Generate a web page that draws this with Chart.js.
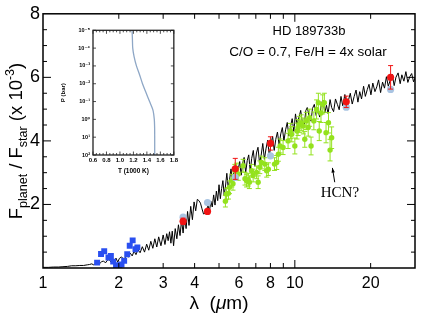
<!DOCTYPE html>
<html>
<head>
<meta charset="utf-8">
<script src="https://cdn.jsdelivr.net/npm/chart.js@4.4.1/dist/chart.umd.min.js"></script>
<style>
body { margin: 0; background: #fff; }
#wrap { position: relative; width: 423px; height: 315px; }
#mainChart { position: absolute; left: 0; top: 0; }
#insetChart { position: absolute; left: 55px; top: 24px; }
</style>
</head>
<body>
<div id="wrap">
<canvas id="mainChart" width="423" height="315"></canvas>
<canvas id="insetChart" width="125" height="156"></canvas>
</div>
<script>
// model spectrum (wavelength in micron, Fp/Fs in 1e-3)
const specWl = [1.00,1.05,1.10,1.15,1.20,1.25,1.30,1.35,1.40,1.45,1.50,
  1.53,1.56,1.59,1.62,1.65,1.68,1.71,1.74,1.77,1.80,1.83,1.86,1.89,1.92,1.95,1.98,2.01,
  2.05,2.10,2.14,2.18,2.22,2.26,2.30,2.34,2.38,2.43,2.48,2.53,2.58,2.63,2.68,2.73,2.78,2.83,2.88,2.94,
  3.00,3.05,3.10,3.14,3.18,3.22,3.26,3.30,3.35,3.40,3.45,3.50,3.55,3.60,3.65,3.70,3.75,3.80,3.86,3.92,3.98,
  4.04,4.10,4.16,4.22,4.28,4.34,4.40,4.46,4.52,4.58,4.64,4.70,4.76,4.82,4.88,4.94,
  5.00,5.06,5.12,5.18,5.24,5.30,5.37,5.44,5.51,5.58,5.65,5.72,5.80,5.88,5.96,6.04,6.12,6.20,6.29,6.38,
  6.47,6.56,6.65,6.74,6.84,6.94,7.04,7.14,7.24,7.35,7.46,7.57,7.68,7.80,7.92,8.04,8.16,8.28,8.40,8.53,
  8.66,8.79,8.92,9.05,9.19,9.33,9.47,9.61,9.76,9.91,
  10.06,10.2,10.4,10.55,10.7,10.9,11.05,11.2,11.4,11.6,11.75,11.95,12.15,12.35,12.55,12.75,12.95,13.15,13.35,13.55,
  13.8,14.0,14.25,14.5,14.75,15.0,15.25,15.5,15.8,16.05,16.35,16.6,16.9,17.2,17.5,17.8,18.1,18.4,18.75,19.05,
  19.4,19.7,20.05,20.4,20.8,21.15,21.5,21.9,22.3,22.7,23.1,23.5,23.9,24.35,24.8,25.2,25.7,26.2,26.6,27.1,
  27.6,28.1,28.6,29.1,29.6,30.0];
const specF = [0.02,0.02,0.03,0.03,0.04,0.05,0.07,0.07,0.08,0.08,0.10,
  0.11,0.13,0.10,0.15,0.17,0.14,0.20,0.22,0.16,0.24,0.27,0.19,0.28,0.24,0.31,0.18,0.30,
  0.35,0.26,0.40,0.34,0.47,0.38,0.53,0.42,0.58,0.48,0.67,0.50,0.75,0.56,0.84,0.62,0.92,0.66,0.98,0.70,
  1.04,0.74,1.08,0.86,1.14,0.78,1.16,0.70,1.24,0.92,1.36,1.02,1.50,1.10,1.62,1.24,1.78,1.34,1.94,1.52,2.08,
  1.80,2.16,2.12,2.04,1.86,1.70,1.72,1.84,1.96,1.78,2.10,1.92,2.30,1.98,2.42,2.12,
  2.62,2.18,2.50,2.75,2.30,2.55,2.98,2.50,2.80,3.12,2.66,3.05,3.22,2.78,3.10,3.35,2.92,3.28,3.48,3.00,
  3.38,3.56,3.05,3.45,3.70,3.20,3.62,3.80,3.30,3.55,3.92,3.42,3.75,4.02,3.52,3.90,4.15,3.70,4.05,4.28,
  3.88,4.22,4.42,4.00,4.35,4.58,4.15,4.45,4.70,4.30,
  4.85,4.52,4.76,4.96,4.60,4.50,4.95,5.05,4.78,4.62,5.02,5.15,4.80,4.98,4.75,5.20,5.28,4.88,5.12,4.86,
  5.30,5.05,4.92,5.32,5.15,4.98,5.40,5.10,5.46,5.05,5.30,5.50,5.16,5.40,5.60,5.22,5.55,5.32,5.72,5.40,
  5.62,5.78,5.45,5.82,5.55,5.70,5.92,5.52,5.85,5.66,6.02,5.72,5.90,6.10,5.74,6.00,6.14,5.80,6.08,5.88,
  6.18,5.84,6.02,6.12,5.86,5.98];

// ground-based spectrum (blue squares)
const blueWl = [1.64,1.70,1.75,1.82,1.86,1.90,1.95,2.01,2.05,2.10,2.16,2.21,2.27,2.33,2.37];
const blueF = [0.17,0.44,0.53,0.33,0.38,0.20,0.09,0.06,0.11,0.23,0.43,0.70,0.87,0.59,0.65];

// IRS spectrum (green)
const greenWl = [5.30,5.35,5.45,5.50,5.62,5.68,5.78,5.87,5.96,6.23,6.34,6.43,6.53,6.60,6.73,6.83,7.05,7.15,7.26,7.37,
  7.60,7.73,7.85,8.30,8.47,8.60,8.74,8.98,9.40,9.60,9.72,10.0,10.2,10.3,10.45,10.6,10.8,10.95,11.1,11.3,
  11.45,11.6,11.9,12.2,12.4,12.5,12.7,12.9,13.1,13.3,13.6,13.8,14.0];
const greenF = [2.10,2.33,2.35,2.54,2.75,2.65,3.06,3.10,2.96,3.22,2.81,2.75,2.78,2.70,3.06,2.91,3.01,2.70,3.17,3.32,
  3.27,3.06,3.11,3.27,3.32,3.58,3.84,3.79,4.00,4.31,4.21,3.84,4.31,4.42,4.52,4.57,4.47,4.05,4.63,4.42,
  4.73,3.84,4.63,4.99,5.20,4.31,4.88,5.15,5.20,4.26,4.57,3.71,4.10];
const greenErr = [0.18,0.18,0.18,0.2,0.2,0.2,0.2,0.2,0.2,0.2,0.2,0.2,0.2,0.2,0.2,0.2,0.2,0.2,0.2,0.2,
  0.2,0.2,0.2,0.2,0.22,0.22,0.22,0.22,0.24,0.24,0.24,0.25,0.25,0.25,0.25,0.25,0.25,0.25,0.27,0.27,
  0.27,0.28,0.28,0.3,0.3,0.3,0.3,0.3,0.3,0.32,0.32,0.34,0.34];

// photometry (red) and band-averaged model (light blue)
const redWl = [3.6,4.5,5.8,8.0,16.0,24.0];
const redF = [1.47,1.78,3.12,3.92,5.23,6.00];
const redErr = [0.10,0.06,0.33,0.21,0.18,0.37];
const binWl = [3.6,4.5,5.8,8.0,16.0,24.0];
const binF = [1.60,2.06,2.85,3.53,5.06,5.62];

// axes
const xLabelVals = [1,2,3,4,6,8,10,20];
const xTickVals = [2,3,4,5,6,7,8,9,10,20];
const yLabelVals = [2,4,6,8];

// inset P-T profile
const ptP = [1e-5,3e-5,1e-4,3e-4,1e-3,3e-3,1e-2,3e-2,1e-1,3e-1,1,3,10,100];
const ptT = [1.18,1.185,1.19,1.21,1.245,1.29,1.335,1.385,1.44,1.49,1.51,1.515,1.516,1.516];
const insetTTicks = [0.6,0.8,1.0,1.2,1.4,1.6,1.8];
const insetPTicks = [1e-5,1e-4,1e-3,1e-2,1e-1,1,10,100];
const insetPLabels = ['10⁻⁵','10⁻⁴','10⁻³','10⁻²','10⁻¹','10⁰','10¹','10²'];

const FAM = '"Liberation Sans", "DejaVu Sans", sans-serif';

function pts(xs, ys) {
  return xs.map((v, i) => ({ x: v, y: ys[i] }));
}

function line(ctx, x1, y1, x2, y2) {
  ctx.beginPath(); ctx.moveTo(x1, y1); ctx.lineTo(x2, y2); ctx.stroke();
}

// error bars drawn right after their own dataset
const errorBars = {
  id: 'errorBars',
  afterDatasetDraw(chart, args) {
    const ds = chart.data.datasets[args.index];
    if (!ds.errors) return;
    const ctx = chart.ctx, x = chart.scales.x, y = chart.scales.y;
    ctx.save();
    ctx.strokeStyle = ds.borderColor;
    ctx.lineWidth = 1;
    ds.data.forEach((p, i) => {
      const px = x.getPixelForValue(p.x);
      const top = y.getPixelForValue(p.y + ds.errors[i]);
      const bot = y.getPixelForValue(p.y - ds.errors[i]);
      line(ctx, px, top, px, bot);
      line(ctx, px - 2.5, top, px + 2.5, top);
      line(ctx, px - 2.5, bot, px + 2.5, bot);
    });
    ctx.restore();
  }
};

// frame, inward ticks, axis titles and annotations
const frame = {
  id: 'frame',
  afterDraw(chart) {
    const ctx = chart.ctx, a = chart.chartArea, x = chart.scales.x, y = chart.scales.y;
    ctx.save();
    ctx.strokeStyle = '#000';
    ctx.lineWidth = 1;
    xTickVals.forEach(v => {
      const px = x.getPixelForValue(v);
      const len = v === 10 ? 8 : 5;
      line(ctx, px, a.bottom, px, a.bottom - len);
      line(ctx, px, a.top, px, a.top + len);
    });
    for (let v = 0.5; v < 8; v += 0.5) {
      const py = y.getPixelForValue(v);
      const len = v % 2 === 0 ? 8 : 4;
      line(ctx, a.left, py, a.left + len, py);
      line(ctx, a.right, py, a.right - len, py);
    }
    ctx.lineWidth = 1.5;
    ctx.strokeRect(a.left, a.top, a.right - a.left, a.bottom - a.top);

    ctx.fillStyle = '#000';
    // x title
    ctx.textBaseline = 'alphabetic';
    ctx.textAlign = 'left';
    const xt = [['λ  (', 'normal'], ['μ', 'italic'], ['m)', 'normal']];
    let w = 0;
    xt.forEach(p => { ctx.font = p[1] + ' 19px ' + FAM; w += ctx.measureText(p[0]).width; });
    let cx = 219 - w / 2;
    xt.forEach(p => { ctx.font = p[1] + ' 19px ' + FAM; ctx.fillText(p[0], cx, 309); cx += ctx.measureText(p[0]).width; });

    // y title with sub/superscripts
    const yt = [['F', 18.5, 0], ['planet', 12.5, 5], [' / F', 18.5, 0], ['star', 12.5, 5], [' (x 10', 18.5, 0], ['-3', 12.5, -8], [')', 18.5, 0]];
    ctx.save();
    ctx.translate(22, 141);
    ctx.rotate(-Math.PI / 2);
    w = 0;
    yt.forEach(p => { ctx.font = p[1] + 'px ' + FAM; w += ctx.measureText(p[0]).width; });
    cx = -w / 2;
    yt.forEach(p => { ctx.font = p[1] + 'px ' + FAM; ctx.fillText(p[0], cx, p[2]); cx += ctx.measureText(p[0]).width; });
    ctx.restore();

    // labels
    ctx.textAlign = 'center';
    ctx.textBaseline = 'middle';
    ctx.font = '13px ' + FAM;
    ctx.fillText('HD 189733b', 309, 31);
    ctx.font = '13.5px ' + FAM;
    ctx.fillText('C/O = 0.7, Fe/H = 4x solar', 308, 52);

    ctx.font = '15px "Liberation Serif", serif';
    ctx.fillText('HCN?', x.getPixelForValue(15.1), y.getPixelForValue(2.37));
    const ax = x.getPixelForValue(14.4), ay = y.getPixelForValue(2.70);
    const bx = x.getPixelForValue(14.1), by = y.getPixelForValue(3.15);
    ctx.lineWidth = 1;
    line(ctx, ax, ay, bx, by);
    const ang = Math.atan2(by - ay, bx - ax);
    ctx.beginPath();
    ctx.moveTo(bx, by);
    ctx.lineTo(bx - 5 * Math.cos(ang - 0.35), by - 5 * Math.sin(ang - 0.35));
    ctx.lineTo(bx - 5 * Math.cos(ang + 0.35), by - 5 * Math.sin(ang + 0.35));
    ctx.closePath();
    ctx.fill();
    ctx.restore();
  }
};

new Chart(document.getElementById('mainChart').getContext('2d'), {
  type: 'scatter',
  data: {
    datasets: [
      { data: pts(redWl, redF), errors: redErr, borderColor: '#f01414', backgroundColor: '#f01414', pointRadius: 3.6, pointBorderWidth: 0 },
      { data: pts(binWl, binF), borderColor: '#a9c4e2', backgroundColor: '#a9c4e2', pointRadius: 3.6, pointBorderWidth: 0 },
      { data: pts(greenWl, greenF), errors: greenErr, borderColor: '#94e21e', backgroundColor: '#94e21e', pointRadius: 2.7, pointBorderWidth: 0 },
      { data: pts(blueWl, blueF), borderColor: '#2a4ff0', backgroundColor: '#2a4ff0', pointStyle: 'rect', pointRadius: 4.2, pointBorderWidth: 0 },
      { data: pts(specWl, specF), showLine: true, borderColor: '#000', borderWidth: 1, pointRadius: 0, tension: 0 }
    ]
  },
  options: {
    responsive: false,
    animation: false,
    devicePixelRatio: 1,
    layout: { padding: { top: 12, right: 8, left: 0, bottom: 0 } },
    plugins: { legend: { display: false }, tooltip: { enabled: false } },
    scales: {
      x: {
        type: 'logarithmic', min: 1, max: 30,
        afterBuildTicks: s => { s.ticks = xLabelVals.map(v => ({ value: v })); },
        afterFit: s => { s.height = 47; },
        grid: { display: false, drawTicks: false },
        border: { display: false },
        ticks: { color: '#000', font: { family: FAM, size: 16 }, padding: 6, maxRotation: 0, autoSkip: false, callback: v => String(v) }
      },
      y: {
        min: 0, max: 8,
        afterBuildTicks: s => { s.ticks = yLabelVals.map(v => ({ value: v })); },
        afterFit: s => { s.width = 43; },
        grid: { display: false, drawTicks: false },
        border: { display: false },
        ticks: { color: '#000', font: { family: FAM, size: 18 }, padding: 3, callback: v => String(v) }
      }
    }
  },
  plugins: [errorBars, frame]
});

// inset: temperature-pressure profile
const insetFrame = {
  id: 'insetFrame',
  beforeDraw(chart) {
    const a = chart.chartArea;
    chart.ctx.save();
    chart.ctx.fillStyle = '#fff';
    chart.ctx.fillRect(a.left, a.top, a.right - a.left, a.bottom - a.top);
    chart.ctx.restore();
  },
  afterDraw(chart) {
    const ctx = chart.ctx, a = chart.chartArea, x = chart.scales.x, y = chart.scales.y;
    ctx.save();
    ctx.strokeStyle = '#222';
    ctx.lineWidth = 0.8;
    for (let i = 0; i <= 24; i++) {
      const t = 0.6 + i * 0.05;
      const px = x.getPixelForValue(t);
      const len = i % 4 === 0 ? 3.5 : 2;
      line(ctx, px, a.bottom, px, a.bottom - len);
      line(ctx, px, a.top, px, a.top + len);
    }
    insetPTicks.forEach(v => {
      const py = y.getPixelForValue(v);
      line(ctx, a.left, py, a.left + 3, py);
      line(ctx, a.right, py, a.right - 3, py);
    });
    ctx.lineWidth = 1.3;
    ctx.strokeRect(a.left, a.top, a.right - a.left, a.bottom - a.top);
    ctx.fillStyle = '#000';
    ctx.textAlign = 'center';
    ctx.textBaseline = 'middle';
    ctx.font = 'bold 6.5px ' + FAM;
    ctx.fillText('T (1000 K)', (a.left + a.right) / 2, a.bottom + 16);
    ctx.save();
    ctx.translate(8, (a.top + a.bottom) / 2);
    ctx.rotate(-Math.PI / 2);
    ctx.font = 'bold 6px ' + FAM;
    ctx.fillText('P (bar)', 0, 0);
    ctx.restore();
    ctx.restore();
  }
};

new Chart(document.getElementById('insetChart').getContext('2d'), {
  type: 'scatter',
  data: {
    datasets: [
      { data: pts(ptT, ptP), showLine: true, borderColor: '#8ea7c6', borderWidth: 1.3, pointRadius: 0, tension: 0.3 }
    ]
  },
  options: {
    responsive: false,
    animation: false,
    devicePixelRatio: 1,
    layout: { padding: { top: 5, right: 5, left: 0, bottom: 0 } },
    plugins: { legend: { display: false }, tooltip: { enabled: false } },
    scales: {
      x: {
        type: 'linear', min: 0.6, max: 1.8,
        afterBuildTicks: s => { s.ticks = insetTTicks.map(v => ({ value: v })); },
        afterFit: s => { s.height = 25; },
        grid: { display: false, drawTicks: false },
        border: { display: false },
        ticks: { color: '#000', font: { family: FAM, size: 6, weight: 'bold' }, padding: 2, maxRotation: 0, autoSkip: false, callback: v => v.toFixed(1) }
      },
      y: {
        type: 'logarithmic', reverse: true, min: 1e-5, max: 100,
        afterBuildTicks: s => { s.ticks = insetPTicks.map(v => ({ value: v })); },
        afterFit: s => { s.width = 38; },
        grid: { display: false, drawTicks: false },
        border: { display: false },
        ticks: { color: '#000', font: { family: FAM, size: 5.5, weight: 'bold' }, padding: 3, autoSkip: false, callback: (v, i) => insetPLabels[i] }
      }
    }
  },
  plugins: [insetFrame]
});
</script>
</body>
</html>
